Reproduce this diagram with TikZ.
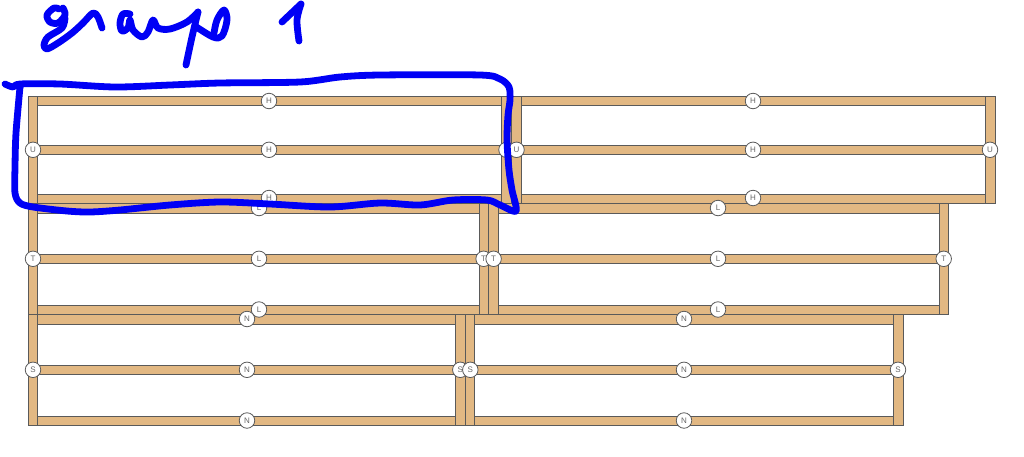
\documentclass[tikz,border=0pt]{standalone}
\usepackage{fontspec}
\setmainfont{Liberation Sans}
\definecolor{wood}{HTML}{E2B883}
\definecolor{edge}{HTML}{5A5A5A}
\definecolor{ink}{HTML}{0000F5}
\tikzset{
  timber/.style={fill=wood,draw=edge,line width=0.9pt},
  tag/.style={circle,draw=edge,fill=white,line width=0.8pt,minimum size=15.5pt,inner sep=0pt,text=black!60,font=\fontsize{8}{9}\selectfont},
  pen/.style={draw=ink,line width=6.8pt,line cap=round,line join=round}
}
% #1 name, #2 x0, #3 x1, #4 top, #5 mid, #6 bottom-rail top, #7 end, #8 centre x
\newcommand{\panelframe}[8]{%
  \pgfmathsetmacro{\xa}{#2+9.6}\pgfmathsetmacro{\xb}{#3-9.6}%
  \draw[timber] (#2,#4) rectangle (\xa,#7);
  \draw[timber] (\xb,#4) rectangle (#3,#7);
  \foreach \yy in {#4,#5,#6}{\pgfmathsetmacro{\yz}{\yy+9.6}\draw[timber] (\xa,\yy) rectangle (\xb,\yz);}
  \pgfmathsetmacro{\sl}{#2+5}\pgfmathsetmacro{\sr}{#3-5}%
  \pgfmathsetmacro{\ym}{#5+4.8}%
  \coordinate (#1c) at (#8,\ym);
  \coordinate (#1l) at (\sl,\ym);
  \coordinate (#1r) at (\sr,\ym);
}
\begin{document}
\begin{tikzpicture}[x=1pt,y=-1pt]
\useasboundingbox (0,0) rectangle (1024,456);
\fill[white] (0,0) rectangle (1024,456);
% row 1
\panelframe{a}{28}{511.5}{96}{145}{194}{203.4}{269}
\panelframe{b}{511.5}{995}{96}{145}{194}{203.4}{753}
% row 2
\panelframe{c}{28}{488.6}{203.4}{254}{305}{314.5}{259}
\panelframe{d}{488.6}{948.7}{203.4}{254}{305}{314.5}{718}
% row 3
\panelframe{e}{28}{465.3}{314.5}{365}{416}{425.6}{247}
\panelframe{f}{465.3}{903}{314.5}{365}{416}{425.6}{684}
% labels, row 1
\node[tag] (a1) at (269,101) {H};
\node[tag] (a2) at (ac) {H};
\node[tag] (a3) at (269,198) {H};
\node[tag] (a4) at (al) {U};
\node[tag] (a5) at (ar) {U};
\node[tag] (b1) at (753,101) {H};
\node[tag] (b2) at (bc) {H};
\node[tag] (b3) at (753,198) {H};
\node[tag] (b4) at (bl) {U};
\node[tag] (b5) at (br) {U};
% labels, row 2
\node[tag] (c1) at (259,208) {L};
\node[tag] (c2) at (cc) {L};
\node[tag] (c3) at (259,309.5) {L};
\node[tag] (c4) at (cl) {T};
\node[tag] (c5) at (cr) {T};
\node[tag] (d1) at (718,208) {L};
\node[tag] (d2) at (dc) {L};
\node[tag] (d3) at (718,309.5) {L};
\node[tag] (d4) at (dl) {T};
\node[tag] (d5) at (dr) {T};
% labels, row 3
\node[tag] (e1) at (247,319) {N};
\node[tag] (e2) at (ec) {N};
\node[tag] (e3) at (247,420.5) {N};
\node[tag] (e4) at (el) {S};
\node[tag] (e5) at (er) {S};
\node[tag] (f1) at (684,319) {N};
\node[tag] (f2) at (fc) {N};
\node[tag] (f3) at (684,420.5) {N};
\node[tag] (f4) at (fl) {S};
\node[tag] (f5) at (fr) {S};
% hand-drawn loop
\draw[pen] plot[smooth,tension=0.5] coordinates {(5,84) (13,87) (20,84) (60,84) (115,87) (170,85) (220,83) (300,82) (340,77) (380,75) (480,75) (500,79) (509,87) (510,100) (508,115) (507,140) (509,170) (512,190) (516,211) (500,205) (487,200) (453,200) (420,205) (380,203) (330,207) (270,204) (220,202) (170,205) (120,210) (90,212) (67,211) (33,207) (20,203) (15,193) (15,167) (16,133) (20,87)};
% hand-written title
\draw[pen] plot[smooth,tension=0.55] coordinates {(59,9) (54,8) (47,15) (50,22) (58,23) (65,15) (63,8)};
\draw[pen] plot[smooth,tension=0.55] coordinates {(65,18) (62,28) (48,37) (44,45) (47,49) (58,43) (72,33) (83,23) (93,13) (98,17) (102,28)};
\draw[pen] plot[smooth,tension=0.55] coordinates {(130,14) (123,14) (120,23) (122,31) (128,28) (130,20) (133,30) (142,37) (148,32) (153,20) (158,28) (170,29) (187,22) (198,12)};
\draw[pen] plot[smooth,tension=0.55] coordinates {(198,12) (192,37) (186,65)};
\draw[pen] plot[smooth,tension=0.55] coordinates {(195,26) (213,37) (222,36) (227,20) (224,10) (217,20) (214,33)};
\draw[pen] plot[sharp plot] coordinates {(282,22) (301,4)};
\draw[pen] plot[smooth,tension=0.55] coordinates {(301,4) (297,20) (299,41)};
\end{tikzpicture}
\end{document}
